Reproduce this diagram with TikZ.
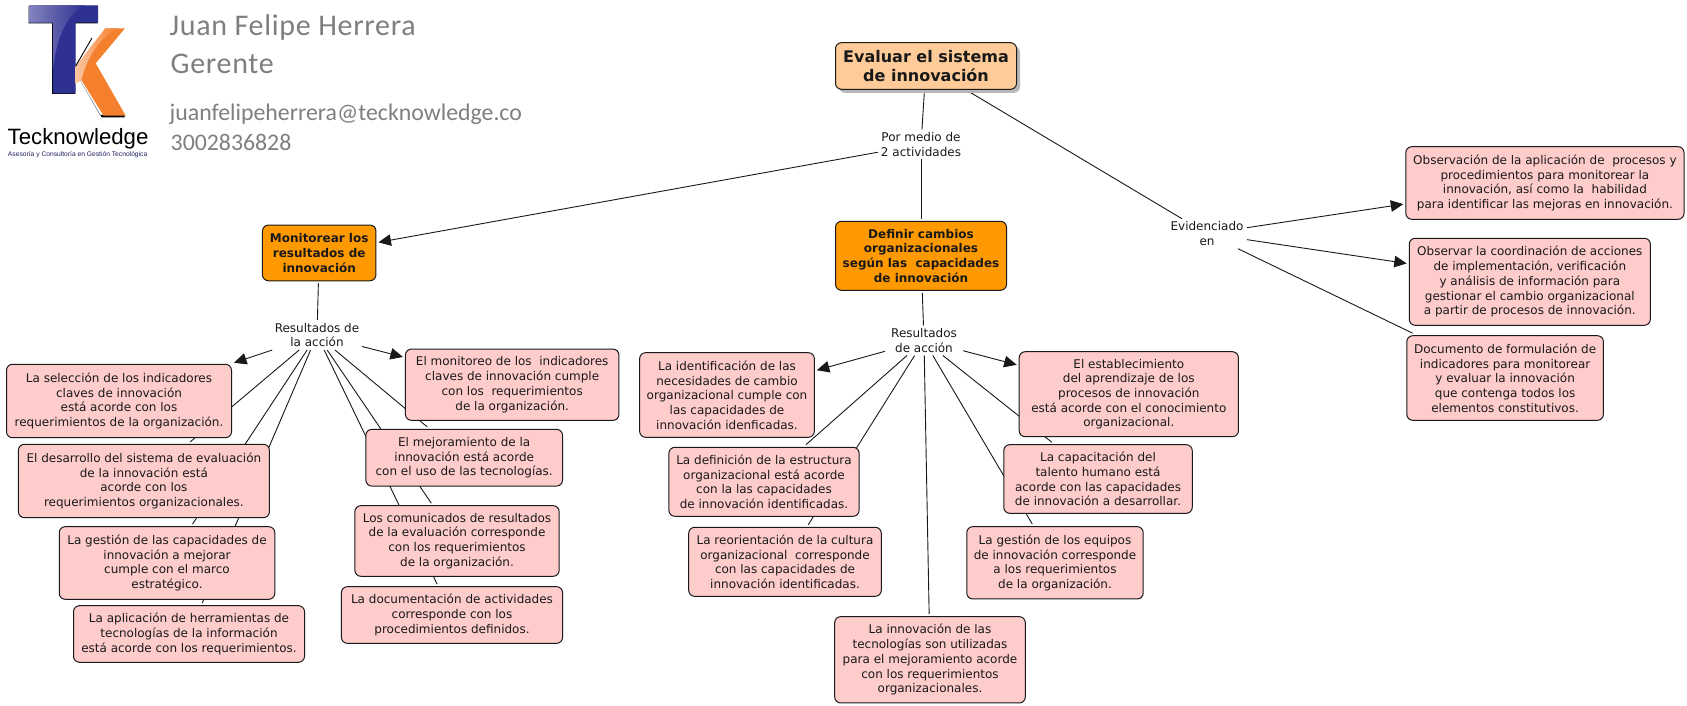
\documentclass[tikz,border=0pt]{standalone}
\usepackage{fontspec}
\setmainfont{DejaVu Sans}
\newfontfamily\carl{Carlito}
\newfontfamily\carlsp[LetterSpace=2.3]{Carlito}
\newfontfamily\lib{Liberation Sans}
\usetikzlibrary{arrows.meta,backgrounds,shadows}
\definecolor{pinkbox}{HTML}{FFCCCC}
\definecolor{orangebox}{HTML}{FF9900}
\definecolor{peachbox}{HTML}{FFCC99}
\definecolor{tkblue}{HTML}{2E3192}
\definecolor{tkorange}{HTML}{F47F2C}
\definecolor{tkgray}{HTML}{7F7F7F}
\tikzset{
  basebox/.style={draw=black!90,line width=1pt,rounded corners=6pt,outer sep=2.5pt,inner sep=0pt,align=center,text=black!90,
    font=\fontsize{12}{14.7}\selectfont},
  pinknode/.style={basebox,fill=pinkbox},
  orangenode/.style={basebox,fill=orangebox,font=\fontsize{12}{14.7}\selectfont\bfseries},
  rootnode/.style={basebox,fill=peachbox,font=\fontsize{16}{19.4}\selectfont\bfseries,
    general shadow={shadow xshift=3.5pt,shadow yshift=-3.5pt,fill=black!28,opacity=1}},
  linklabel/.style={inner sep=0pt,outer sep=0pt,align=center,text=black!90,font=\fontsize{12}{14.7}\selectfont},
  link/.style={line width=0.9pt,draw=black!90},
  arrowlink/.style={link,-{Triangle[length=12.5pt,width=11.5pt]}},
  contact/.style={anchor=base west,inner sep=0pt,text=tkgray},
}
\begin{document}
\begin{tikzpicture}[x=1pt,y=-1pt]
\useasboundingbox (0,0) rectangle (1687,706);
% logo
\fill[black] (28.6,6) -- (97.6,6) -- (97.6,23.4) -- (75,23.4) -- (75,94) -- (52.2,94) -- (52.2,23.4) -- (28.6,23.4) -- cycle;
\fill[tkblue] (29.3,5.3) -- (98.2,5.3) -- (98.2,22.7) -- (75.7,22.7) -- (75.7,93.3) -- (52.9,93.3) -- (52.9,22.7) -- (29.3,22.7) -- cycle;
\shade[left color=tkblue!60!white,right color=tkblue] (29.3,5.3) -- (85,5.3) .. controls (66,14) and (56,40) .. (52.9,70) -- (52.9,22.7) -- (29.3,22.7) -- cycle;
\fill[black] (80,80) -- (101.8,117.5) -- (124.5,117.5) -- (124.5,115) -- (100,115) -- cycle;
\fill[tkorange] (125,28.3) -- (105.4,28.3) -- (75.7,66.7) -- (75.7,83.3) -- (81.4,80) -- (103.6,115.7) -- (125.7,115.7) -- (95.7,63.3) -- cycle;
\shade[left color=tkorange!45!white,right color=tkorange] (105.4,28.3) -- (118,28.3) .. controls (100,38) and (88,55) .. (81.4,80) -- (75.7,83.3) -- (75.7,66.7) -- cycle;
\draw[black,line width=0.9pt] (75.7,66) -- (92,38);
\node[anchor=base west,inner sep=0pt] (brand) at (7.5,144.5) {\lib\fontsize{22.2}{24}\selectfont Tecknowledge};
\node[anchor=base west,inner sep=0pt,text=tkblue!70!black] (sub) at (7.8,157) {\lib\fontsize{6.7}{8}\selectfont Asesoría y Consultoría en Gestión Tecnológica};
% contact
\node[contact] (name) at (169.5,36) {\carlsp\fontsize{30}{32}\selectfont Juan Felipe Herrera};
\node[contact] (role) at (170.5,74) {\carlsp\fontsize{30}{32}\selectfont Gerente};
\node[contact] (mail) at (169.5,120.7) {\carl\fontsize{23.8}{26}\selectfont juanfelipeherrera@tecknowledge.co};
\node[contact] (phone) at (170.5,150) {\carl\fontsize{23.8}{26}\selectfont 3002836828};
% main concepts
\node[rootnode,minimum width=181pt,minimum height=46.6pt] (root) at (926,66) {Evaluar el sistema\\de innovación};
\node[linklabel,minimum width=86pt,minimum height=30pt] (l1) at (921,144.5) {Por medio de\\2 actividades};
\node[orangenode,minimum width=113.5pt,minimum height=55.7pt] (moni) at (319.2,252.9) {Monitorear los\\resultados de\\innovación};
\node[orangenode,minimum width=171pt,minimum height=69pt] (defi) at (921,255.8) {Definir cambios\\organizacionales\\según las\ \ capacidades\\de innovación};
\node[linklabel,minimum width=80pt,minimum height=30pt] (l4) at (1207,233.7) {Evidenciado\\en};
\node[linklabel,minimum width=90pt,minimum height=30pt] (l2) at (317,335) {Resultados de\\la acción};
\node[linklabel,minimum width=78pt,minimum height=30pt] (l3) at (924,340.5) {Resultados\\de acción};
% left group
\node[pinknode,minimum width=225pt,minimum height=73.4pt] (sel) at (119,401) {La selección de los indicadores\\claves de innovación\\está acorde con los\\requerimientos de la organización.};
\node[pinknode,minimum width=213.5pt,minimum height=71.3pt] (mon) at (512.2,384.7) {El monitoreo de los\ \ indicadores\\claves de innovación cumple\\con los\ \ requerimientos\\de la organización.};
\node[pinknode,minimum width=251pt,minimum height=73.4pt] (desa) at (143.9,481) {El desarrollo del sistema de evaluación\\de la innovación está\\acorde con los\\requerimientos organizacionales.};
\node[pinknode,minimum width=196.7pt,minimum height=56.7pt] (mej) at (464.2,457.7) {El mejoramiento de la\\innovación está acorde\\con el uso de las tecnologías.};
\node[pinknode,minimum width=215.5pt,minimum height=72.6pt] (gest) at (167,563) {La gestión de las capacidades de\\innovación a mejorar\\cumple con el marco\\estratégico.};
\node[pinknode,minimum width=204.3pt,minimum height=70.6pt] (comu) at (457,541) {Los comunicados de resultados\\de la evaluación corresponde\\con los requerimientos\\de la organización.};
\node[pinknode,minimum width=231pt,minimum height=56.6pt] (apli) at (189,634) {La aplicación de herramientas de\\tecnologías de la información\\está acorde con los requerimientos.};
\node[pinknode,minimum width=221.2pt,minimum height=56.6pt] (docu) at (452,615) {La documentación de actividades\\corresponde con los\\procedimientos definidos.};
% centre group
\node[pinknode,minimum width=174.7pt,minimum height=84.6pt] (iden) at (727,395) {La identificación de las\\necesidades de cambio\\organizacional cumple con\\las capacidades de\\innovación idenficadas.};
\node[pinknode,minimum width=219.2pt,minimum height=85pt] (esta) at (1128.8,394.2) {El establecimiento\\del aprendizaje de los\\procesos de innovación\\está acorde con el conocimiento\\organizacional.};
\node[pinknode,minimum width=190.2pt,minimum height=69pt] (estr) at (764,481.8) {La definición de la estructura\\organizacional está acorde\\con la las capacidades\\de innovación identificadas.};
\node[pinknode,minimum width=188.5pt,minimum height=68.6pt] (tale) at (1098,479) {La capacitación del\\talento humano está\\acorde con las capacidades\\de innovación a desarrollar.};
\node[pinknode,minimum width=192.6pt,minimum height=69pt] (reor) at (785,561.8) {La reorientación de la cultura\\organizacional\ \ corresponde\\con las capacidades de\\innovación identificadas.};
\node[pinknode,minimum width=176.4pt,minimum height=72.3pt] (equi) at (1055,562.8) {La gestión de los equipos\\de innovación corresponde\\a los requerimientos\\de la organización.};
\node[pinknode,minimum width=190.6pt,minimum height=86.3pt] (tecn) at (930,659.8) {La innovación de las\\tecnologías son utilizadas\\para el mejoramiento acorde\\con los requerimientos\\organizacionales.};
% right group
\node[pinknode,minimum width=278.2pt,minimum height=72.6pt] (obse) at (1544.9,183) {Observación de la aplicación de\ \ procesos y\\procedimientos para monitorear la\\innovación, así como la\ \ habilidad\\para identificar las mejoras en innovación.};
\node[pinknode,minimum width=241.1pt,minimum height=87pt] (coor) at (1529.8,281.8) {Observar la coordinación de acciones\\de implementación, verificación\\y análisis de información para\\gestionar el cambio organizacional\\a partir de procesos de innovación.};
\node[pinknode,minimum width=196.6pt,minimum height=84.6pt] (form) at (1505.1,378) {Documento de formulación de\\indicadores para monitorear\\y evaluar la innovación\\que contenga todos los\\elementos constitutivos.};
% connectors
\begin{pgfonlayer}{background}
\fill[white] (0,0) rectangle (1687,706);
\draw[link] (root) -- (l1);
\draw[link] (root) -- (l4);
\draw[arrowlink] (l1) -- (moni);
\draw[link] (l1) -- (defi);
\draw[link] (moni) -- (l2);
\draw[link] (defi) -- (l3);
\draw[arrowlink] (l2) -- (sel);
\draw[arrowlink] (l2) -- (mon);
\draw[link] (l2) -- (desa);
\draw[link] (l2) -- (gest);
\draw[link] (l2) -- (apli);
\draw[link] (l2) -- (mej);
\draw[link] (l2) -- (comu);
\draw[link] (l2) -- (docu);
\draw[arrowlink] (l3) -- (iden);
\draw[arrowlink] (l3) -- (esta);
\draw[link] (l3) -- (estr);
\draw[link] (l3) -- (reor);
\draw[link] (l3) -- (tecn);
\draw[link] (l3) -- (tale);
\draw[link] (l3) -- (equi);
\draw[arrowlink] (l4) -- (obse);
\draw[arrowlink] (l4) -- (coor);
\draw[link] (l4) -- (form);
\end{pgfonlayer}
\end{tikzpicture}
\end{document}
